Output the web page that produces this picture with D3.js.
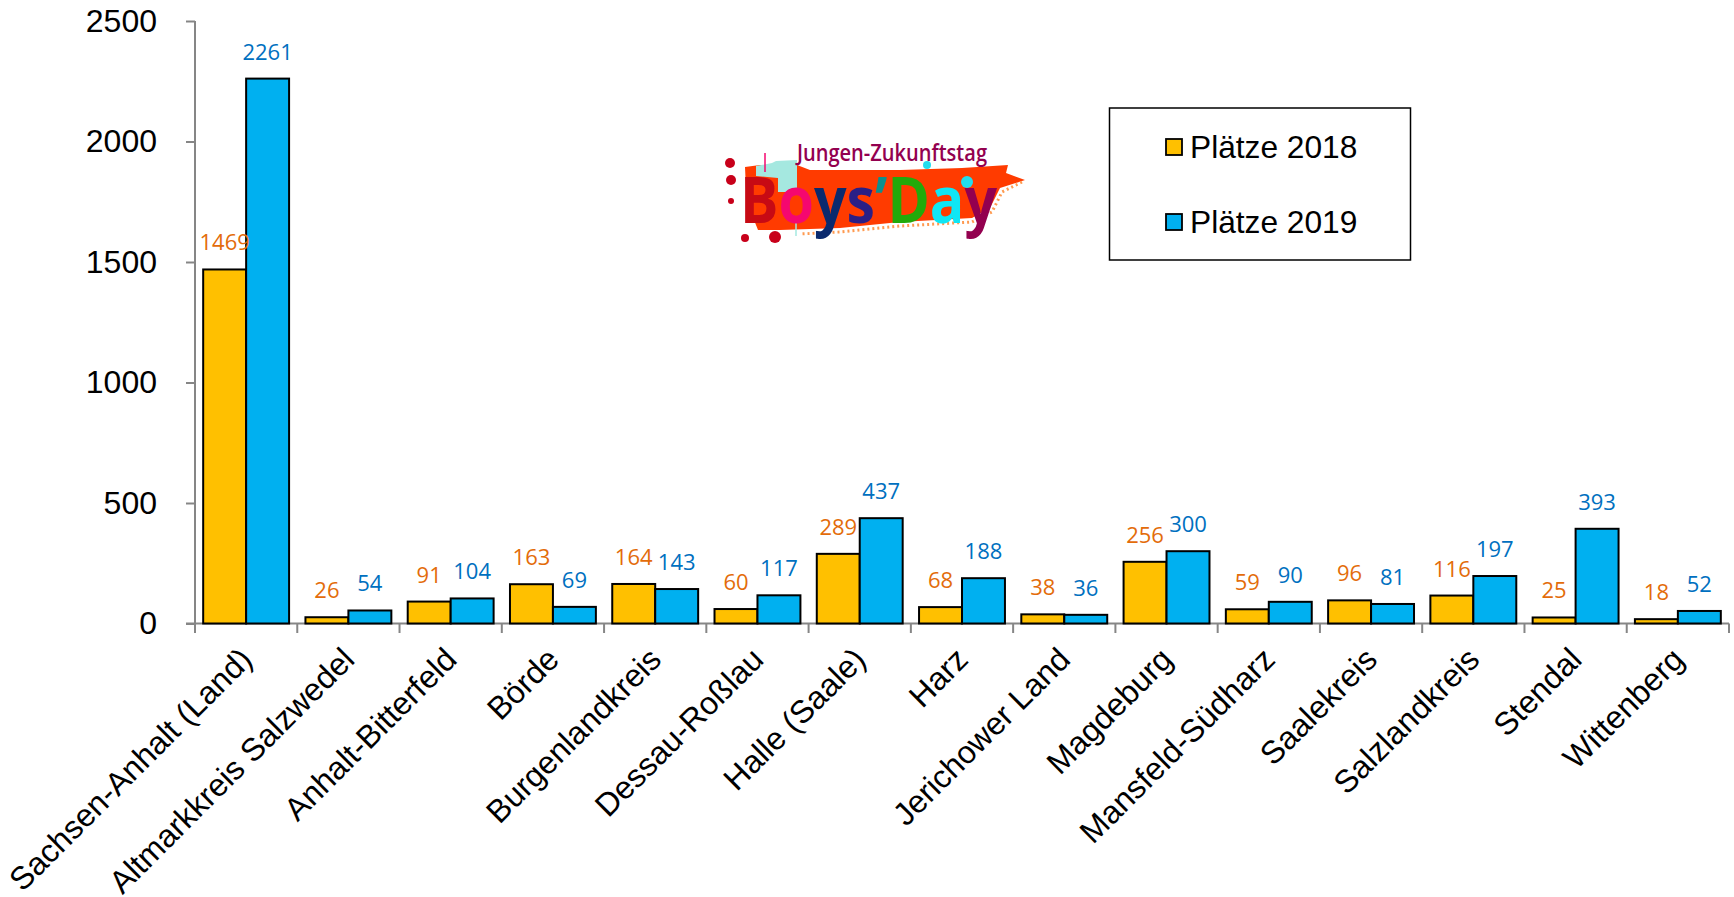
<!DOCTYPE html>
<html><head><meta charset="utf-8">
<script src="https://cdn.jsdelivr.net/npm/d3@7"></script>
<style>html,body{margin:0;background:#fff}svg{display:block}</style></head>
<body><div id="c"></div>
<script>
const categories=["Sachsen-Anhalt (Land)","Altmarkkreis Salzwedel","Anhalt-Bitterfeld","Börde","Burgenlandkreis","Dessau-Roßlau","Halle (Saale)","Harz","Jerichower Land","Magdeburg","Mansfeld-Südharz","Saalekreis","Salzlandkreis","Stendal","Wittenberg"];
const places2018=[1469,26,91,163,164,60,289,68,38,256,59,96,116,25,18];
const places2019=[2261,54,104,69,143,117,437,188,36,300,90,81,197,393,52];
const seriesNames=["Plätze 2018","Plätze 2019"];
const yTicks=[0,500,1000,1500,2000,2500];
const fills=["#FFC000","#00B0F0"], labelColors=["#E36C0A","#0070C0"];
const W=1734,H=897,L=195,R=1729,T=21,B=623.5;
const svg=d3.select("#c").append("svg").attr("width",W).attr("height",H);
const sans="'Liberation Sans',Arial,sans-serif";
const x=d3.scaleBand().domain(categories).range([L,R]).paddingInner(0.16).paddingOuter(0.08);
const inner=d3.scaleBand().domain([0,1]).range([0,x.bandwidth()]);
const y=d3.scaleLinear().domain([0,2500]).range([B,T]);

// logo
const logo=svg.append("g").attr("transform","translate(700,120)");
logo.append("path").attr("fill","#FF3B00").attr("d","M45 47L60 45L97 45L110 50L200 50L262 48L308 45L306 53L325 60L300 68L290 88L272 98L200 102L140 108L80 110L58 110L50 90L46 70Z");
logo.append("path").attr("fill","none").attr("stroke","#FF9A50").attr("stroke-width",3).attr("stroke-dasharray","2 3").attr("d","M322 62L302 72L292 92L272 102L200 106L140 112L100 114");
logo.append("path").attr("fill","#A5E8E0").attr("d","M56 46L72 43L76 41L97 40L97 72L78 72L78 58L56 56Z");
logo.append("line").attr("x1",65).attr("x2",65).attr("y1",33).attr("y2",52).attr("stroke","#F5076F").attr("stroke-width",1.5);
logo.append("line").attr("x1",96).attr("x2",96).attr("y1",100).attr("y2",116).attr("stroke","#A5E8E0").attr("stroke-width",1.5);
[[30,43,5],[31,60,5],[75,117,6],[45,118,4],[31,81,3]].forEach(d=>logo.append("circle").attr("cx",d[0]).attr("cy",d[1]).attr("r",d[2]).attr("fill","#C8001A"));
[[227,45,4],[267,62,6]].forEach(d=>logo.append("circle").attr("cx",d[0]).attr("cy",d[1]).attr("r",d[2]).attr("fill","#22DDEE"));
logo.append("text").attr("x",97).attr("y",41).attr("font-family","'Open Sans',sans-serif").attr("font-size",23).attr("font-weight",600).attr("fill","#93004F").attr("textLength",190).attr("lengthAdjust","spacingAndGlyphs").text("Jungen-Zukunftstag");
const logoText=logo.append("text").attr("x",40).attr("y",103).attr("font-family","'Open Sans',sans-serif").attr("font-weight",700).attr("font-size",64).attr("textLength",257).attr("lengthAdjust","spacingAndGlyphs");
[["B","#C70A14"],["o","#F5076F"],["y","#0A2A6E"],["s","#2A1F86"],["’","#0D8F8F"],["D","#22AA0A"],["a","#10E6F4"],["y","#93004F"]].forEach(d=>logoText.append("tspan").attr("fill",d[1]).text(d[0]));

// axes
const gy=svg.append("g").attr("transform",`translate(${L},0)`).call(d3.axisLeft(y).tickValues(yTicks).tickFormat(d3.format("d")).tickSize(9).tickSizeOuter(0).tickPadding(29));
const gx=svg.append("g").attr("transform",`translate(0,${B})`);
gy.selectAll("path,line").attr("stroke","#868686").attr("stroke-width",2);
gy.selectAll("text").attr("font-family",sans).attr("font-size",32).attr("fill","#000");
gy.select(".domain").attr("d",`M0,${T}V${B}`);

// bars first, then all value labels on top of them
const seriesValues=[places2018,places2019];
seriesValues.forEach((vals,s)=>{
 svg.append("g").selectAll("rect").data(vals).join("rect")
  .attr("x",(d,i)=>x(categories[i])+inner(s)).attr("width",inner.bandwidth())
  .attr("y",d=>y(d)).attr("height",d=>y(0)-y(d))
  .attr("fill",fills[s]).attr("stroke","#000").attr("stroke-width",2);
});
seriesValues.forEach((vals,s)=>{
 svg.append("g").selectAll("text").data(vals).join("text")
  .attr("x",(d,i)=>x(categories[i])+inner(s)+inner.bandwidth()/2).attr("y",d=>y(d)-19)
  .attr("text-anchor","middle").attr("font-family","'Open Sans',sans-serif").attr("font-size",22)
  .attr("fill",labelColors[s]).text(d=>d);
});

// category axis
gx.append("line").attr("x1",L-9).attr("x2",R).attr("stroke","#868686").attr("stroke-width",2);
gx.selectAll("line.t").data(d3.range(categories.length+1)).join("line").attr("class","t")
 .attr("x1",i=>L+i*(R-L)/categories.length).attr("x2",i=>L+i*(R-L)/categories.length).attr("y2",9.5).attr("stroke","#868686").attr("stroke-width",2);
gx.selectAll("text").data(categories).join("text")
 .attr("transform",d=>`translate(${x(d)+x.bandwidth()/2},30) rotate(-45)`)
 .attr("text-anchor","end").attr("font-family",sans).attr("font-size",32).attr("fill","#000").attr("dy","0.35em").text(d=>d);

// legend
svg.append("rect").attr("x",1109.5).attr("y",108).attr("width",301).attr("height",152).attr("fill","#fff").attr("stroke","#000").attr("stroke-width",1.5);
seriesNames.forEach((n,i)=>{
 const cy=147+i*75;
 svg.append("rect").attr("x",1166).attr("y",cy-8).attr("width",16).attr("height",16).attr("fill",fills[i]).attr("stroke","#000").attr("stroke-width",1.8);
 svg.append("text").attr("x",1190).attr("y",cy+10.5).attr("font-family",sans).attr("font-size",31.7).attr("fill","#000").text(n);
});
</script></body></html>
